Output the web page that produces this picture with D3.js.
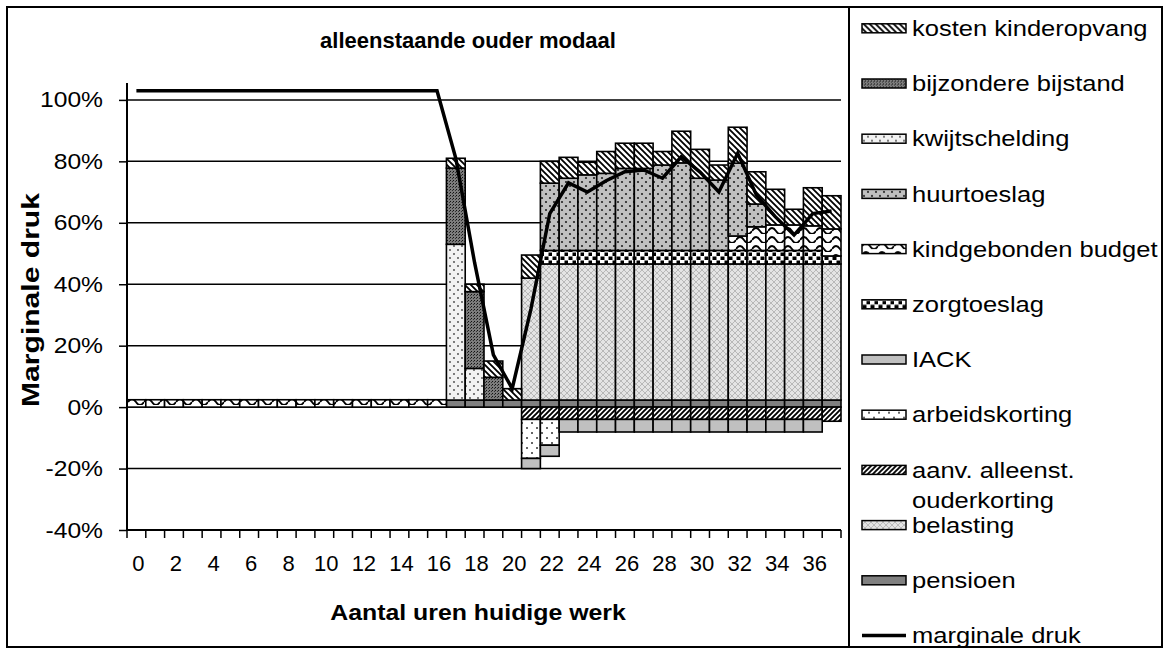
<!DOCTYPE html>
<html>
<head>
<meta charset="utf-8">
<script src="https://cdn.jsdelivr.net/npm/d3@7"></script>
<style>
  body { margin: 0; background: #fff; }
  text { font-family: Arial, "Liberation Sans", sans-serif; fill: #000; }
</style>
</head>
<body>
<script>
// marginale druk, alleenstaande ouder modaal

var hours = [0,1,2,3,4,5,6,7,8,9,10,11,12,13,14,15,16,17,18,19,20,21,22,23,24,25,26,27,28,29,30,31,32,33,34,35,36,37];
var xTickLabels = [0,2,4,6,8,10,12,14,16,18,20,22,24,26,28,30,32,34,36];
var yTicks = [-40,-20,0,20,40,60,80,100];

// values in % per hour (0..37)
var pensioen       = [0,0,0,0,0,0,0,0,0,0,0,0,0,0,0,0,0, 2.3,2.3,2.3,2.3,2.3,2.3,2.3,2.3,2.3,2.3,2.3,2.3,2.3,2.3,2.3,2.3,2.3,2.3,2.3,2.3,2.3];
var belasting      = [0,0,0,0,0,0,0,0,0,0,0,0,0,0,0,0,0,0,0,0,0, 39.7, 44.3,44.3,44.3,44.3,44.3,44.3,44.3,44.3,44.3,44.3,44.3,44.3,44.3,44.3,44.3,44.3];
var ouderkorting   = [0,0,0,0,0,0,0,0,0,0,0,0,0,0,0,0,0,0,0,0,0, -4,-4,-4,-4,-4,-4,-4,-4,-4,-4,-4,-4,-4,-4,-4,-4,-4.6];
var arbeidskorting = [0,0,0,0,0,0,0,0,0,0,0,0,0,0,0,0,0,0,0,0,0, -12.7,-8.4, 0,0,0,0,0,0,0,0,0,0,0,0,0,0,0];
var iack           = [0,0,0,0,0,0,0,0,0,0,0,0,0,0,0,0,0,0,0,0,0, -3.3,-3.6, -4.1,-4.1,-4.1,-4.1,-4.1,-4.1,-4.1,-4.1,-4.1,-4.1,-4.1,-4.1,-4.1,-4.1, 0];
var zorgtoeslag    = [0,0,0,0,0,0,0,0,0,0,0,0,0,0,0,0,0,0,0,0,0,0, 4.4,4.4,4.4,4.4,4.4,4.4,4.4,4.4,4.4,4.4,4.4,4.4,4.4,4.4,4.4, 2.6];
var kindgebonden   = [2.4,2.4,2.4,2.4,2.4,2.4,2.4,2.4,2.4,2.4,2.4,2.4,2.4,2.4,2.4,2.4,2.4, 0,0,0,0,0,0,0,0,0,0,0,0,0,0,0, 4.7,7.7,8.3,8.3,8.0,8.8];
var huurtoeslag    = [0,0,0,0,0,0,0,0,0,0,0,0,0,0,0,0,0,0,0,0,0,0, 21.9,23.5,24.6,25.1,26.7,26.7,27.8,28.5,23.5,22.9,23.7,7.4, 0,0,0,0];
var kwijtschelding = [0,0,0,0,0,0,0,0,0,0,0,0,0,0,0,0,0, 50.7,10.3, 0,0,0,0,0,0,0,0,0,0,0,0,0,0,0,0,0,0,0];
var bijzondere     = [0,0,0,0,0,0,0,0,0,0,0,0,0,0,0,0,0, 24.8,25.0,7.4, 0,0,0,0,0,0,0,0,0,0,0,0,0,0,0,0,0,0];
var kinderopvang   = [0,0,0,0,0,0,0,0,0,0,0,0,0,0,0,0,0, 3.2,2.4,5.3,3.7,7.5,7.1,6.8,4.1,7.1,8.2,8.2,4.4,10.3,9.4,4.9,11.7,10.5,11.6,5.1,12.4,10.8];
var marginaleDruk  = [103,103,103,103,103,103,103,103,103,103,103,103,103,103,103,103,103, 81,47,17,6,32,63,73,70,73.7,76.6,77.2,74.5,81.5,76.5,70,82.6,69,62,56,63,63.8];

// stack order, bottom to top
var series = [
  {key: "pensioen",       label: "pensioen",                   values: pensioen,       fill: "#808080"},
  {key: "belasting",      label: "belasting",                  values: belasting,      fill: "url(#p-cross)"},
  {key: "ouderkorting",   label: "aanv. alleenst. ouderkorting", values: ouderkorting, fill: "url(#p-fwd)"},
  {key: "arbeidskorting", label: "arbeidskorting",             values: arbeidskorting, fill: "url(#p-sparse)"},
  {key: "iack",           label: "IACK",                       values: iack,           fill: "#c0c0c0"},
  {key: "zorgtoeslag",    label: "zorgtoeslag",                values: zorgtoeslag,    fill: "url(#p-check)"},
  {key: "kindgebonden",   label: "kindgebonden budget",        values: kindgebonden,   fill: "url(#p-wave)"},
  {key: "huurtoeslag",    label: "huurtoeslag",                values: huurtoeslag,    fill: "url(#p-graydots)"},
  {key: "kwijtschelding", label: "kwijtschelding",             values: kwijtschelding, fill: "url(#p-lightdots)"},
  {key: "bijzondere",     label: "bijzondere bijstand",        values: bijzondere,     fill: "url(#p-dark)"},
  {key: "kinderopvang",   label: "kosten kinderopvang",        values: kinderopvang,   fill: "url(#p-back)"}
];

var rows = hours.map(function(h, i) {
  var r = {hour: h, druk: marginaleDruk[i]};
  series.forEach(function(s) { r[s.key] = s.values[i]; });
  return r;
});

var W = 1168, H = 648;
var plot = {left: 127, right: 841, top: 83, bottom: 530};

var svg = d3.select("body").append("svg")
    .attr("width", W)
    .attr("height", H);

// the original text is a bit wider than Arial, stretch it
function stretch(sel, k) {
  sel.each(function() {
    var n = this.getComputedTextLength();
    d3.select(this).attr("textLength", n * k).attr("lengthAdjust", "spacingAndGlyphs");
  });
}

// patterns
var defs = svg.append("defs");
function pat(id, w, h) {
  var p = defs.append("pattern").attr("id", id)
    .attr("patternUnits", "userSpaceOnUse")
    .attr("width", w).attr("height", h);
  return p;
}
var p;
p = pat("p-back", 6, 6);
p.append("rect").attr("width", 6).attr("height", 6).attr("fill", "#fff");
p.append("path").attr("d", "M-1,-1L7,7M-4,2L2,8M2,-4L8,2").attr("stroke", "#000").attr("stroke-width", 1.8);

p = pat("p-fwd", 5, 5);
p.append("rect").attr("width", 5).attr("height", 5).attr("fill", "#fff");
p.append("path").attr("d", "M-1,6L6,-1M-3,3L3,-3M2,8L8,2").attr("stroke", "#000").attr("stroke-width", 1.9);

p = pat("p-dark", 3, 3);
p.append("rect").attr("width", 3).attr("height", 3).attr("fill", "#7c7c7c");
p.append("rect").attr("width", 1).attr("height", 1).attr("fill", "#111");
p.append("rect").attr("x", 2).attr("y", 1).attr("width", 1).attr("height", 1).attr("fill", "#333");

p = pat("p-graydots", 8, 8);
p.append("rect").attr("width", 8).attr("height", 8).attr("fill", "#c0c0c0");
p.append("circle").attr("cx", 2).attr("cy", 2).attr("r", 1.1).attr("fill", "#222");
p.append("circle").attr("cx", 6).attr("cy", 6).attr("r", 1.1).attr("fill", "#222");

p = pat("p-lightdots", 8, 8);
p.append("rect").attr("width", 8).attr("height", 8).attr("fill", "#f2f2f2");
p.append("circle").attr("cx", 2).attr("cy", 2).attr("r", 0.9).attr("fill", "#444");
p.append("circle").attr("cx", 6).attr("cy", 6).attr("r", 0.9).attr("fill", "#444");

p = pat("p-sparse", 10, 10);
p.append("rect").attr("width", 10).attr("height", 10).attr("fill", "#fff");
p.append("circle").attr("cx", 2).attr("cy", 3).attr("r", 1).attr("fill", "#333");
p.append("circle").attr("cx", 7).attr("cy", 8).attr("r", 1).attr("fill", "#333");

p = pat("p-wave", 16, 9);
p.append("rect").attr("width", 16).attr("height", 9).attr("fill", "#fff");
p.append("path").attr("d", "M0,6Q4,0 8,6T16,6").attr("fill", "none").attr("stroke", "#000").attr("stroke-width", 1.8);

p = pat("p-check", 8, 8);
p.append("rect").attr("width", 8).attr("height", 8).attr("fill", "#fff");
p.append("rect").attr("x", 0.5).attr("y", 0.5).attr("width", 4).attr("height", 3.5).attr("fill", "#000");
p.append("rect").attr("x", 4.5).attr("y", 4.5).attr("width", 4).attr("height", 3.5).attr("fill", "#000");

p = pat("p-cross", 6, 6);
p.append("rect").attr("width", 6).attr("height", 6).attr("fill", "#e4e4e4");
p.append("path").attr("d", "M0,0L6,6M6,0L0,6").attr("stroke", "#b8b8b8").attr("stroke-width", 1);

// scales
var x = d3.scaleBand().domain(hours).range([plot.left, plot.right]).padding(0);
var y = d3.scaleLinear().domain([-40, 105.5]).range([plot.bottom, plot.top]);
var bw = x.bandwidth();

// outer border
svg.append("rect").attr("x", 7).attr("y", 7).attr("width", 1155).attr("height", 640)
   .attr("fill", "none").attr("stroke", "#000").attr("stroke-width", 2);

// gridlines
svg.append("g").selectAll("line")
  .data(yTicks.filter(function(d) { return d > -40; }))
  .enter().append("line")
  .attr("x1", plot.left).attr("x2", plot.right)
  .attr("y1", function(d) { return y(d); })
  .attr("y2", function(d) { return y(d); })
  .attr("stroke", "#000").attr("stroke-width", 1.5);

// stacked bars
var stacked = d3.stack()
  .keys(series.map(function(s) { return s.key; }))
  .offset(d3.stackOffsetDiverging)(rows);

svg.append("g").selectAll("g")
  .data(stacked)
  .enter().append("g")
  .attr("fill", function(d, i) { return series[i].fill; })
  .selectAll("rect")
  .data(function(d) { return d.filter(function(e) { return e[1] !== e[0]; }); })
  .enter().append("rect")
  .attr("x", function(d) { return x(d.data.hour); })
  .attr("width", bw)
  .attr("y", function(d) { return y(Math.max(d[0], d[1])); })
  .attr("height", function(d) { return Math.abs(y(d[0]) - y(d[1])); })
  .attr("stroke", "#000").attr("stroke-width", 1.6);

// marginale druk line
var line = d3.line()
  .x(function(d) { return x(d.hour) + bw / 2; })
  .y(function(d) { return y(d.druk); });

svg.append("path").datum(rows)
  .attr("d", line)
  .attr("fill", "none").attr("stroke", "#000").attr("stroke-width", 3.5);

// y axis
var yAxis = svg.append("g")
  .attr("transform", "translate(" + plot.left + ",0)")
  .call(d3.axisLeft(y).tickValues(yTicks).tickSize(8).tickPadding(16)
    .tickFormat(function(d) { return d + "%"; }));
yAxis.select(".domain").attr("stroke-width", 2).attr("d", "M0," + plot.top + "V" + plot.bottom);
yAxis.selectAll(".tick line").attr("stroke-width", 1.5);
yAxis.selectAll("text").style("font-size", "22px").call(stretch, 1.12);

// x axis
var xAxis = svg.append("g").attr("transform", "translate(0," + plot.bottom + ")");
xAxis.append("line").attr("x1", plot.left).attr("x2", plot.right)
  .attr("stroke", "#000").attr("stroke-width", 2);
xAxis.selectAll(".xt")
  .data(hours.concat([null]))
  .enter().append("line")
  .attr("x1", function(d) { return d === null ? plot.right : x(d); })
  .attr("x2", function(d) { return d === null ? plot.right : x(d); })
  .attr("y1", 0).attr("y2", 8)
  .attr("stroke", "#000").attr("stroke-width", 1.5);
xAxis.selectAll(".xl")
  .data(xTickLabels)
  .enter().append("text")
  .attr("x", function(d) { return x(d) + bw / 2 + 2; })
  .attr("y", 33)
  .attr("dy", "0.35em")
  .attr("text-anchor", "middle")
  .style("font-size", "22px")
  .text(function(d) { return d; });

// titles
svg.append("text").attr("x", 468).attr("y", 40).attr("dy", "0.35em")
  .attr("text-anchor", "middle").style("font-size", "22px").style("font-weight", "bold")
  .text("alleenstaande ouder modaal");
svg.append("text").attr("x", 478).attr("y", 612).attr("dy", "0.35em")
  .attr("text-anchor", "middle").style("font-size", "22px").style("font-weight", "bold")
  .text("Aantal uren huidige werk")
  .call(stretch, 1.13);
svg.append("text").attr("transform", "translate(31,300) rotate(-90)").attr("dy", "0.35em")
  .attr("text-anchor", "middle").style("font-size", "23px").style("font-weight", "bold")
  .text("Marginale druk")
  .attr("textLength", 214).attr("lengthAdjust", "spacingAndGlyphs");

// legend
var legendItems = series.slice().reverse().concat([{key: "druk", label: "marginale druk", line: true}]);
var lg = svg.append("g");
lg.append("rect").attr("x", 849).attr("y", 7).attr("width", 313).attr("height", 640)
  .attr("fill", "none").attr("stroke", "#000").attr("stroke-width", 2);

var item = lg.selectAll(".item")
  .data(legendItems)
  .enter().append("g")
  .attr("transform", function(d, i) { return "translate(862," + (28.3 + i * 55.2) + ")"; });

item.filter(function(d) { return !d.line; })
  .append("rect")
  .attr("x", 0).attr("y", -4.5).attr("width", 44).attr("height", 9)
  .attr("fill", function(d) { return d.fill; })
  .attr("stroke", "#000").attr("stroke-width", 1.5);

item.filter(function(d) { return d.line; })
  .append("line")
  .attr("x1", 0).attr("x2", 44)
  .attr("stroke", "#000").attr("stroke-width", 3.5);

item.append("text")
  .attr("x", 50).attr("dy", "0.35em")
  .style("font-size", "22px")
  .each(function(d) {
    var t = d3.select(this);
    if (d.key === "ouderkorting") {
      t.append("tspan").attr("x", 50).text("aanv. alleenst.");
      t.append("tspan").attr("x", 50).attr("dy", "1.4em").text("ouderkorting");
    } else {
      t.append("tspan").text(d.label);
    }
  });
item.selectAll("tspan").call(stretch, 1.16);
</script>
</body>
</html>
